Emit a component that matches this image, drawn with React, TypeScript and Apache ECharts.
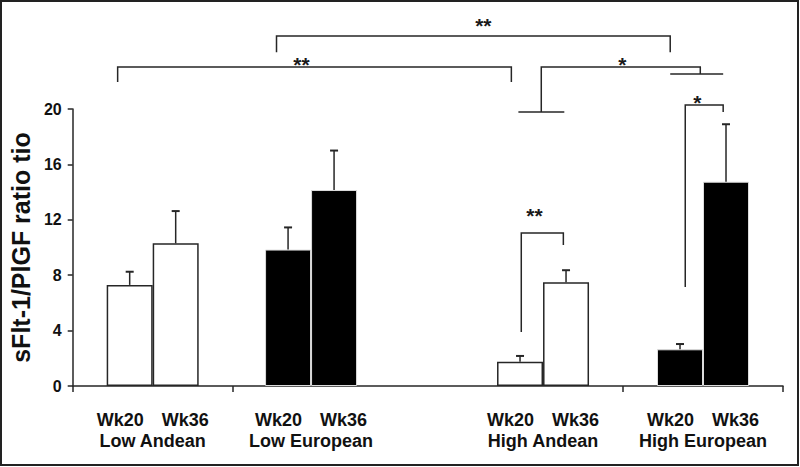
import React, { useEffect, useRef } from "react";
import * as echarts from "echarts";

// ---- data ----
const groups = ["Low Andean", "Low European", "High Andean", "High European"];
const groupX = [0.5, 1.49, 2.94, 3.94]; // group centres on the x axis
const groupTicks = [0, 1, 3.44, 4.44];
const weeks = ["Wk20", "Wk36"];
const wk20 = [7.3, 9.85, 1.75, 2.65];
const wk20Err = [0.95, 1.6, 0.42, 0.38];
const wk36 = [10.3, 14.15, 7.5, 14.75];
const wk36Err = [2.33, 2.85, 0.86, 4.15];
const yTicks = [0, 4, 8, 12, 16, 20];

// significance brackets (data coordinates)
const brackets = [
  { label: "**", at: [2.567, 26.0], lines: [[[1.274, 24.1], [1.274, 25.27], [3.735, 25.27], [3.735, 24.1]]] },
  { label: "**", at: [1.43, 23.2], lines: [[[0.281, 21.95], [0.281, 23.03], [2.742, 23.03], [2.742, 21.95]]] },
  {
    label: "*", at: [3.435, 23.2], lines: [
      [[2.929, 19.78], [2.929, 23.03], [3.923, 23.03], [3.923, 22.53]],
      [[2.786, 19.78], [3.073, 19.78]],
      [[3.735, 22.53], [4.066, 22.53]],
    ]
  },
  { label: "*", at: [3.904, 20.5], lines: [[[3.829, 7.15], [3.829, 20.29], [4.066, 20.29], [4.066, 19.78]]] },
  { label: "**", at: [2.886, 12.3], lines: [[[2.804, 3.9], [2.804, 11.05], [3.067, 11.05], [3.067, 10.18]]] },
];

const FONT = "'Liberation Sans', Arial, Helvetica, sans-serif";
const BAR_W = 46;
const INK = "#262626";

export default function App() {
  const ref = useRef<HTMLDivElement>(null);
  useEffect(() => {
    document.body.style.margin = "0";
    const chart = echarts.init(ref.current!, null, { renderer: "svg" });
    const fillOf = (i: number) => (groups[i].includes("European") ? "#000" : "#fff");
    const barData = (vals: number[]) =>
      vals.map((v, i) => ({
        value: [groupX[i], v],
        itemStyle: {
          color: fillOf(i),
          borderColor: fillOf(i) === "#000" ? "#dcdcdc" : INK,
          borderWidth: fillOf(i) === "#000" ? 1 : 1.5,
        },
      }));
    const errData = [
      ...wk20.map((v, i) => [groupX[i], v, wk20Err[i], -1]),
      ...wk36.map((v, i) => [groupX[i], v, wk36Err[i], 1]),
    ];
    const labelFor = (v: number) => {
      let best = 0;
      groupX.forEach((g, i) => {
        if (Math.abs(g - v) < Math.abs(groupX[best] - v)) best = i;
      });
      return `{w|${weeks[0]}}{w|${weeks[1]}}\n{g|${groups[best]}}`;
    };
    chart.setOption({
      animation: false,
      textStyle: { fontFamily: FONT },
      grid: { left: 72, right: 17, top: 109, bottom: 81 },
      xAxis: {
        type: "value",
        min: 0,
        max: 4.44,
        axisLine: { show: true, lineStyle: { color: INK, width: 1.5 } },
        axisTick: { show: true, customValues: groupTicks, length: 6, lineStyle: { color: INK, width: 1.5 } },
        axisLabel: {
          customValues: groupX,
          formatter: labelFor,
          margin: 23,
          color: "#111",
          rich: {
            w: { width: 65, align: "center", fontSize: 18, fontWeight: "bold", lineHeight: 21, fontFamily: FONT, color: "#111" },
            g: { fontSize: 18, fontWeight: "bold", lineHeight: 21, fontFamily: FONT, color: "#111" },
          },
        },
        splitLine: { show: false },
      },
      yAxis: {
        type: "value",
        min: yTicks[0],
        max: yTicks[yTicks.length - 1],
        interval: yTicks[1] - yTicks[0],
        name: "sFlt-1/PlGF ratio tio",
        nameLocation: "middle",
        nameGap: 31,
        nameRotate: 90,
        nameTextStyle: { fontSize: 25, fontWeight: "bold", color: "#111", fontFamily: FONT },
        axisLine: { show: true, lineStyle: { color: INK, width: 1.5 } },
        axisTick: { show: true, length: 5, lineStyle: { color: INK, width: 1.5 } },
        axisLabel: { fontSize: 16, fontWeight: "bold", color: "#111", margin: 11, fontFamily: FONT },
        splitLine: { show: false },
      },
      series: [
        { name: weeks[0], type: "bar", barWidth: BAR_W, barGap: "0%", data: barData(wk20) },
        { name: weeks[1], type: "bar", barWidth: BAR_W, barGap: "0%", data: barData(wk36) },
        {
          type: "custom",
          clip: false,
          z: 5,
          encode: { x: 0, y: 1 },
          data: errData,
          renderItem: (params: any, api: any) => {
            const x = api.value(0), v = api.value(1), e = api.value(2), side = api.value(3);
            const base = api.coord([x, v]);
            const top = api.coord([x, v + e]);
            const px = base[0] + side * (BAR_W / 2);
            return {
              type: "group",
              children: [
                { type: "line", shape: { x1: px, y1: base[1], x2: px, y2: top[1] }, style: { stroke: INK, lineWidth: 1.5 } },
                { type: "line", shape: { x1: px - 4, y1: top[1], x2: px + 4, y2: top[1] }, style: { stroke: INK, lineWidth: 2 } },
              ],
            };
          },
        },
        {
          type: "custom",
          clip: false,
          z: 6,
          encode: { x: 0, y: 1 },
          data: brackets.map((b) => [b.at[0], b.at[1]]),
          renderItem: (params: any, api: any) => {
            const b = brackets[params.dataIndex];
            const children: any[] = b.lines.map((pts) => ({
              type: "polyline",
              shape: { points: pts.map((p) => api.coord(p)) },
              style: { stroke: INK, lineWidth: 1.5, fill: null },
            }));
            const lp = api.coord(b.at);
            children.push({
              type: "text",
              x: lp[0],
              y: lp[1],
              style: { text: b.label, fontSize: 21, fontWeight: "bold", fill: "#1a1a1a", align: "center", verticalAlign: "middle", fontFamily: FONT },
            });
            return { type: "group", children };
          },
        },
      ],
      graphic: [
        {
          type: "rect",
          shape: { x: 1, y: 1, width: 797, height: 464 },
          style: { fill: null, stroke: "#222", lineWidth: 2 },
          silent: true,
        },
      ],
    });
    return () => chart.dispose();
  }, []);
  return <div ref={ref} style={{ width: 800, height: 467 }} />;
}
